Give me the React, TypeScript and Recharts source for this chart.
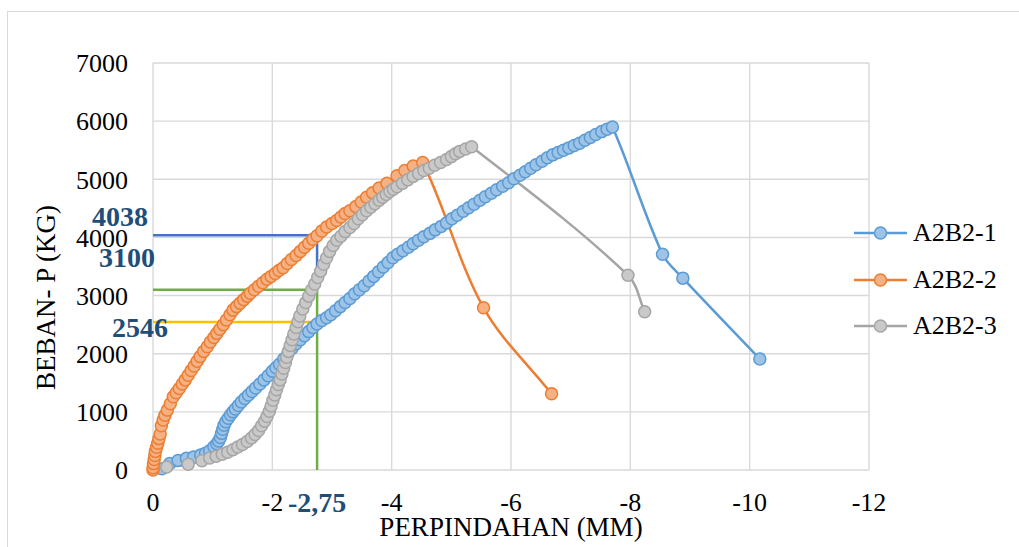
import React from 'react';
import { LineChart, Line, XAxis, YAxis, CartesianGrid, Legend, ReferenceLine, Label } from 'recharts';

// ---------- data ----------
const seriesNames = ['A2B2-1', 'A2B2-2', 'A2B2-3'];
const xTicks = [0, -2, -4, -6, -8, -10, -12];
const yTicks = [0, 1000, 2000, 3000, 4000, 5000, 6000, 7000];

// displacement (mm), load (kg)
const specimen1: [number, number][] = [
  [-0.15, 20], [-0.28, 110], [-0.42, 165], [-0.56, 200], [-0.68, 225], [-0.8, 260], [-0.88, 290], [-0.95, 330],
  [-1.02, 400], [-1.07, 450], [-1.1, 500], [-1.13, 560], [-1.15, 630], [-1.17, 700], [-1.19, 770], [-1.22, 830],
  [-1.26, 890], [-1.3, 950], [-1.34, 1000], [-1.38, 1050], [-1.43, 1110], [-1.48, 1170], [-1.54, 1230], [-1.6, 1290],
  [-1.66, 1350], [-1.72, 1410], [-1.79, 1480], [-1.86, 1550], [-1.93, 1620], [-2.0, 1700], [-2.06, 1760], [-2.12, 1820],
  [-2.19, 1910], [-2.26, 2000], [-2.33, 2090], [-2.4, 2170], [-2.47, 2240], [-2.54, 2310], [-2.61, 2380], [-2.68, 2450],
  [-2.75, 2510], [-2.83, 2570], [-2.91, 2620], [-2.98, 2670], [-3.06, 2740], [-3.14, 2810], [-3.22, 2880], [-3.3, 2950],
  [-3.38, 3030], [-3.46, 3100], [-3.54, 3170], [-3.62, 3250], [-3.7, 3330], [-3.78, 3410], [-3.86, 3490], [-3.94, 3570],
  [-4.02, 3650], [-4.1, 3710], [-4.19, 3770], [-4.28, 3830], [-4.36, 3890], [-4.45, 3950], [-4.54, 4010], [-4.64, 4070],
  [-4.73, 4130], [-4.83, 4190], [-4.92, 4250], [-5.01, 4320], [-5.1, 4380], [-5.2, 4450], [-5.29, 4510], [-5.38, 4570],
  [-5.48, 4640], [-5.57, 4700], [-5.67, 4760], [-5.76, 4820], [-5.86, 4880], [-5.96, 4940], [-6.05, 5010], [-6.15, 5070],
  [-6.24, 5130], [-6.33, 5190], [-6.42, 5250], [-6.52, 5310], [-6.61, 5370], [-6.7, 5420], [-6.79, 5460], [-6.88, 5500],
  [-6.97, 5540], [-7.06, 5580], [-7.15, 5620], [-7.24, 5670], [-7.33, 5720], [-7.42, 5770], [-7.52, 5820], [-7.61, 5860],
  [-7.7, 5900], [-8.54, 3710], [-8.88, 3300], [-10.17, 1910],
];

const specimen2: [number, number][] = [
  [0, 0], [0, 40], [-0.01, 110], [-0.02, 180], [-0.03, 250], [-0.04, 320], [-0.06, 390], [-0.08, 460],
  [-0.1, 540], [-0.12, 620], [-0.14, 760], [-0.17, 860], [-0.2, 940], [-0.24, 1030], [-0.29, 1140], [-0.34, 1260],
  [-0.39, 1330], [-0.44, 1400], [-0.49, 1480], [-0.54, 1550], [-0.59, 1630], [-0.64, 1710], [-0.69, 1790], [-0.74, 1870],
  [-0.79, 1950], [-0.85, 2040], [-0.91, 2120], [-0.96, 2200], [-1.02, 2280], [-1.07, 2350], [-1.12, 2420], [-1.18, 2500],
  [-1.23, 2580], [-1.29, 2670], [-1.34, 2750], [-1.4, 2810], [-1.46, 2870], [-1.52, 2930], [-1.58, 2990], [-1.63, 3040],
  [-1.7, 3100], [-1.77, 3160], [-1.84, 3220], [-1.91, 3280], [-1.98, 3330], [-2.05, 3380], [-2.11, 3430], [-2.18, 3480],
  [-2.25, 3550], [-2.32, 3620], [-2.4, 3690], [-2.47, 3760], [-2.54, 3830], [-2.61, 3900], [-2.68, 3970], [-2.75, 4030],
  [-2.83, 4110], [-2.91, 4180], [-3.0, 4240], [-3.08, 4290], [-3.15, 4350], [-3.22, 4410], [-3.3, 4460], [-3.4, 4530],
  [-3.49, 4610], [-3.58, 4690], [-3.68, 4770], [-3.79, 4850], [-3.92, 4930], [-4.09, 5060], [-4.22, 5150], [-4.36, 5230],
  [-4.52, 5290], [-5.54, 2790], [-6.68, 1310],
];

const specimen3: [number, number][] = [
  [-0.23, 50], [-0.59, 100], [-0.82, 160], [-0.95, 205], [-1.06, 235], [-1.16, 270], [-1.25, 305], [-1.34, 350],
  [-1.42, 395], [-1.5, 440], [-1.58, 490], [-1.65, 550], [-1.71, 610], [-1.77, 680], [-1.82, 760], [-1.87, 840],
  [-1.91, 920], [-1.95, 1010], [-1.98, 1100], [-2.01, 1200], [-2.04, 1290], [-2.07, 1380], [-2.1, 1470], [-2.13, 1550],
  [-2.16, 1650], [-2.19, 1750], [-2.22, 1850], [-2.24, 1940], [-2.27, 2040], [-2.3, 2140], [-2.33, 2240], [-2.36, 2340],
  [-2.4, 2450], [-2.43, 2550], [-2.46, 2650], [-2.51, 2770], [-2.56, 2880], [-2.61, 2990], [-2.66, 3100], [-2.71, 3200],
  [-2.76, 3310], [-2.81, 3420], [-2.86, 3540], [-2.91, 3650], [-2.96, 3760], [-3.02, 3860], [-3.08, 3950], [-3.15, 4020],
  [-3.22, 4100], [-3.3, 4170], [-3.37, 4240], [-3.44, 4320], [-3.51, 4390], [-3.58, 4460], [-3.65, 4520], [-3.72, 4580],
  [-3.79, 4640], [-3.85, 4690], [-3.91, 4740], [-3.97, 4790], [-4.03, 4830], [-4.09, 4870], [-4.18, 4930], [-4.27, 4990],
  [-4.36, 5050], [-4.45, 5100], [-4.54, 5150], [-4.63, 5190], [-4.72, 5240], [-4.82, 5290], [-4.92, 5340], [-5.0, 5390],
  [-5.07, 5440], [-5.14, 5480], [-5.24, 5520], [-5.34, 5560], [-7.96, 3350], [-8.24, 2720],
];

// annotation values
const refDisplacement = -2.75;
const refLoad2 = 4038;
const refLoad3 = 3100;
const refLoad1 = 2546;
const refDisplacementLabel = '-2,75';

// ---------- styles ----------
const FONT = "'Liberation Serif', 'Times New Roman', Times, serif";
const lineColors = ['#5B9BD5', '#ED7D31', '#A5A5A5'];
const fillColors = ['#9DC3E6', '#F4B183', '#C9C9C9'];
const annoBlue = '#1F4E79';
const GRID = '#D9D9D9';

const toPoints = (arr: [number, number][]) => arr.map(([x, y]) => ({ x, y }));
const seriesData = [toPoints(specimen1), toPoints(specimen2), toPoints(specimen3)];

// Smoothed line: tangent direction from neighbours, handle length from own segment (no overshoot)
const smoothCurve: any = (context: any) => {
  let pts: number[][] = [];
  const unit = (a: number[], b: number[]) => {
    const dx = b[0] - a[0];
    const dy = b[1] - a[1];
    const l = Math.hypot(dx, dy) || 1;
    return [dx / l, dy / l];
  };
  return {
    areaStart() {},
    areaEnd() {},
    lineStart() {
      pts = [];
    },
    point(x: number, y: number) {
      pts.push([+x, +y]);
    },
    lineEnd() {
      const n = pts.length;
      if (!n) return;
      context.moveTo(pts[0][0], pts[0][1]);
      if (n === 1) return;
      const tangents = pts.map((p, i) => unit(pts[Math.max(i - 1, 0)], pts[Math.min(i + 1, n - 1)]));
      for (let i = 0; i < n - 1; i++) {
        const p1 = pts[i];
        const p2 = pts[i + 1];
        const L = Math.hypot(p2[0] - p1[0], p2[1] - p1[1]) / 3;
        context.bezierCurveTo(
          p1[0] + tangents[i][0] * L,
          p1[1] + tangents[i][1] * L,
          p2[0] - tangents[i + 1][0] * L,
          p2[1] - tangents[i + 1][1] * L,
          p2[0],
          p2[1]
        );
      }
    },
  };
};

const annoLabel = (text: string, dx: number, dy: number, anchor: 'start' | 'middle' | 'end', fromBottom = false) =>
  (props: any) => {
    const vb = props.viewBox || {};
    const baseY = fromBottom ? vb.y + vb.height : vb.y;
    return (
      <text
        x={vb.x + dx}
        y={baseY + dy}
        textAnchor={anchor}
        fontFamily={FONT}
        fontWeight="bold"
        fontSize={28}
        fill={annoBlue}
      >
        {text}
      </text>
    );
  };

const renderLegend = (props: any) => {
  const payload = props.payload || [];
  return (
    <div style={{ width: 170, fontFamily: FONT, fontSize: 26, color: '#000' }}>
      {payload.map((entry: any, i: number) => {
        const idx = seriesNames.indexOf(entry.value);
        return (
          <div key={i} style={{ display: 'flex', alignItems: 'center', height: 46.5, whiteSpace: 'nowrap' }}>
            <svg width={56} height={16} style={{ display: 'block' }}>
              <line x1={1} y1={8} x2={54} y2={8} stroke={lineColors[idx]} strokeWidth={2.5} />
              <circle cx={27.5} cy={8} r={6} fill={fillColors[idx]} stroke={lineColors[idx]} strokeWidth={1.5} />
            </svg>
            <span style={{ marginLeft: 4, lineHeight: 1 }}>{entry.value}</span>
          </div>
        );
      })}
    </div>
  );
};

export default function App() {
  return (
    <div style={{ position: 'absolute', left: 0, top: 0, width: 1019, height: 547, background: '#fff', overflow: 'hidden' }}>
      <div
        style={{
          position: 'absolute',
          left: 7,
          top: 11,
          width: 1030,
          height: 560,
          borderTop: `1.5px solid ${GRID}`,
          borderLeft: `1.5px solid ${GRID}`,
        }}
      />
      <div style={{ position: 'absolute', left: 0, top: 0 }}>
        <LineChart width={1019} height={547} margin={{ top: 63, right: 150, bottom: 0, left: 0 }}>
          <CartesianGrid stroke={GRID} strokeWidth={1.4} />
          <XAxis
            type="number"
            dataKey="x"
            domain={[-12, 0]}
            reversed
            ticks={xTicks}
            interval={0}
            height={77}
            axisLine={false}
            tickLine={false}
            tickSize={0}
            tickMargin={23}
            tick={{ fontFamily: FONT, fontSize: 26, fill: '#000' }}
          >
            <Label
              content={(p: any) => {
                const vb = p.viewBox || {};
                return (
                  <text x={vb.x + vb.width / 2} y={vb.y + 66} textAnchor="middle" fontFamily={FONT} fontSize={27} fill="#000">
                    PERPINDAHAN (MM)
                  </text>
                );
              }}
            />
          </XAxis>
          <YAxis
            type="number"
            domain={[0, 7000]}
            ticks={yTicks}
            interval={0}
            width={153}
            axisLine={false}
            tickLine={false}
            tickSize={0}
            tickMargin={25}
            tick={{ fontFamily: FONT, fontSize: 26, fill: '#000' }}
          >
            <Label
              content={(p: any) => {
                const vb = p.viewBox || {};
                const cx = vb.x + 55;
                const cy = vb.y + vb.height / 2 + 31;
                return (
                  <text x={cx} y={cy} textAnchor="middle" transform={`rotate(-90, ${cx}, ${cy})`} fontFamily={FONT} fontSize={27} fill="#000">
                    BEBAN- P (KG)
                  </text>
                );
              }}
            />
          </YAxis>

          <ReferenceLine
            segment={[{ x: 0, y: refLoad2 }, { x: refDisplacement, y: refLoad2 }]}
            stroke="#4472C4"
            strokeWidth={2.5}
            label={annoLabel(String(refLoad2), -5, -9, 'end')}
          />
          <ReferenceLine
            segment={[{ x: refDisplacement, y: refLoad2 }, { x: refDisplacement, y: refLoad3 }]}
            stroke="#4472C4"
            strokeWidth={2.5}
          />
          <ReferenceLine
            segment={[{ x: 0, y: refLoad3 }, { x: refDisplacement, y: refLoad3 }]}
            stroke="#70AD47"
            strokeWidth={2.5}
            label={annoLabel(String(refLoad3), 2, -23, 'end')}
          />
          <ReferenceLine
            segment={[{ x: refDisplacement, y: refLoad3 }, { x: refDisplacement, y: 0 }]}
            stroke="#70AD47"
            strokeWidth={2.5}
            label={annoLabel(refDisplacementLabel, 0, 42, 'middle', true)}
          />
          <ReferenceLine
            segment={[{ x: 0, y: refLoad1 }, { x: refDisplacement, y: refLoad1 }]}
            stroke="#FFC000"
            strokeWidth={2.5}
            label={annoLabel(String(refLoad1), 15, 15, 'end')}
          />

          {seriesData.map((d, i) => (
            <Line
              key={seriesNames[i]}
              name={seriesNames[i]}
              data={d}
              dataKey="y"
              type={smoothCurve}
              stroke={lineColors[i]}
              strokeWidth={2.5}
              dot={{ r: 6, fill: fillColors[i], stroke: lineColors[i], strokeWidth: 1.5 }}
              activeDot={false}
              isAnimationActive={false}
            />
          ))}

          <Legend
            layout="vertical"
            align="center"
            verticalAlign="middle"
            content={renderLegend}
            wrapperStyle={{ left: 853, top: 210, width: 170, height: 140 }}
          />
        </LineChart>
      </div>
    </div>
  );
}
